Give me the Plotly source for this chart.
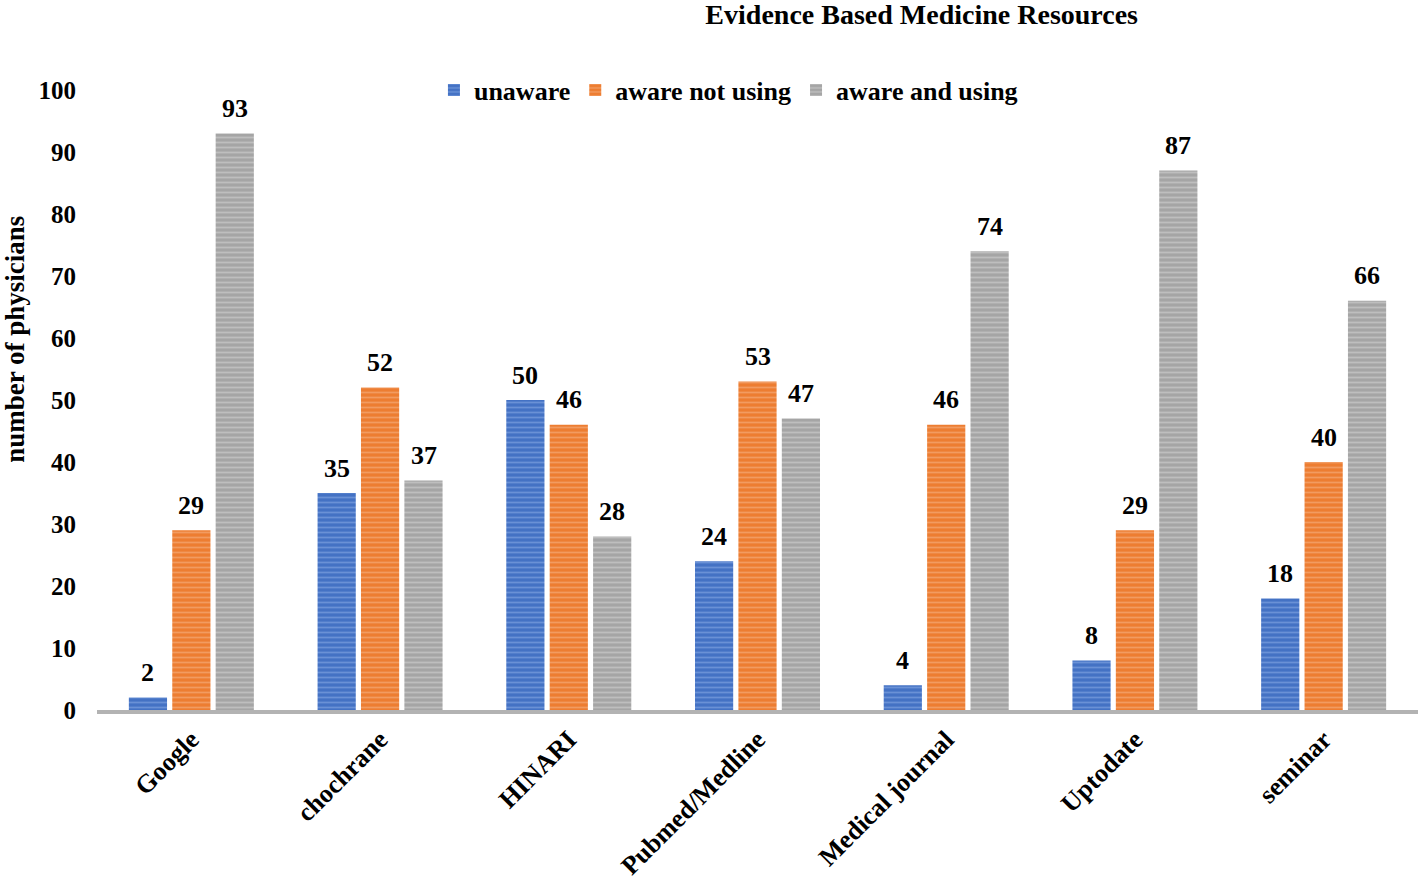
import plotly.graph_objects as go

categories = ["Google", "chochrane", "HINARI", "Pubmed/Medline", "Medical journal", "Uptodate", "seminar"]
unaware = [2, 35, 50, 24, 4, 8, 18]
aware_not_using = [29, 52, 46, 53, 46, 29, 40]
aware_and_using = [93, 37, 28, 47, 74, 87, 66]
y_ticks = [0, 10, 20, 30, 40, 50, 60, 70, 80, 90, 100]

FONT = "Liberation Serif"
series = [
    ("unaware", unaware, "#4472C4", "#8fb0e8"),
    ("aware not using", aware_not_using, "#ED7D31", "#f7b98f"),
    ("aware and using", aware_and_using, "#A5A5A5", "#d8d8d8"),
]
SLOT = 43.5  # px per bar slot within a group

fig = go.Figure()
for i, (name, vals, col, light) in enumerate(series):
    fig.add_trace(go.Bar(
        name=name, x=categories, y=vals,
        marker=dict(color=col, line=dict(width=0),
                    pattern=dict(shape="-", fgcolor=light, bgcolor=col, size=5, solidity=0.35)),
    ))
    for c, v in zip(categories, vals):
        fig.add_annotation(x=c, y=v, xref="x", yref="y", text=str(v), showarrow=False,
                           xshift=(i - 1) * SLOT, yshift=25, yanchor="middle",
                           font=dict(family=FONT, size=26, color="black", weight="bold"))

fig.add_annotation(x=0, xref="paper", xshift=-82, y=0.597, yref="paper",
                   text="number of physicians", textangle=-90, showarrow=False,
                   xanchor="center", yanchor="middle",
                   font=dict(family=FONT, size=27, color="black", weight="bold"))

fig.update_layout(
    width=1418, height=879,
    paper_bgcolor="white", plot_bgcolor="white",
    margin=dict(l=97, r=0, t=90, b=169, autoexpand=False),
    barmode="group", bargap=0.31, bargroupgap=0.12,
    title=dict(text="Evidence Based Medicine Resources", x=0.65, xanchor="center",
               xref="container", yref="container", y=1 - 14 / 879, yanchor="middle",
               font=dict(family=FONT, size=28, color="black", weight="bold")),
    legend=dict(orientation="h", x=0.478, xanchor="center", y=1.0, yanchor="middle",
                font=dict(family=FONT, size=26, color="black", weight="bold"),
                itemsizing="constant", itemwidth=30, bgcolor="rgba(0,0,0,0)"),
    showlegend=True,
)
fig.update_yaxes(range=[0, 100], tickvals=y_ticks, showgrid=False, zeroline=False,
                 showline=False, ticks="", ticklen=0, automargin=False,
                 ticklabelstandoff=20,
                 tickfont=dict(family=FONT, size=25, color="black", weight="bold"))
fig.update_xaxes(showline=True, linecolor="#b3b3b3", linewidth=4, showgrid=False,
                 tickangle=-45, ticks="", automargin=False,
                 tickfont=dict(family=FONT, size=26, color="black", weight="bold"))

fig.write_html("out.html", config={"displayModeBar": False},
               post_script="document.body.style.margin='0';")
